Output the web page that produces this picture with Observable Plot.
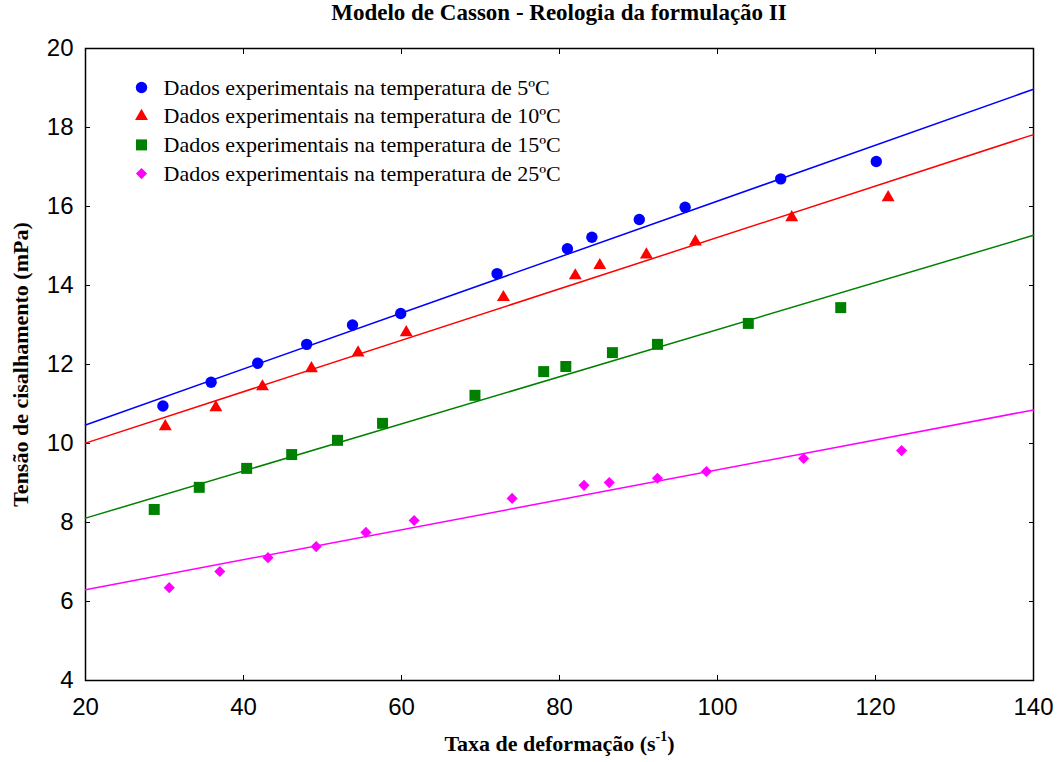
<!DOCTYPE html>
<html>
<head>
<meta charset="utf-8">
<script src="https://cdn.jsdelivr.net/npm/d3@7"></script>
<script src="https://cdn.jsdelivr.net/npm/@observablehq/plot@0.6"></script>
<style>
  body { margin: 0; background: #fff; }
  #chart { width: 1057px; }
  #chart h1 {
    margin: 0; height: 40px; line-height: 40px; padding-left: 61px;
    text-align: center; font: bold 23px "Liberation Serif", "Times New Roman", serif; color: #000;
  }
  #chart svg { display: block; }
</style>
</head>
<body>
<div id="chart"><h1>Modelo de Casson - Reologia da formulação II</h1></div>
<script>
// Shear rate (s^-1) and shear stress (mPa) measured at each temperature
const shearRate5  = [29.8, 35.9, 41.8, 48.0, 53.8, 59.9, 72.1, 81.0, 84.1, 90.1, 95.9, 108.0, 120.1];
const stress5     = [10.95, 11.55, 12.03, 12.51, 13.0, 13.29, 14.3, 14.93, 15.22, 15.67, 15.98, 16.7, 17.14];
const shearRate10 = [30.1, 36.5, 42.4, 48.6, 54.5, 60.6, 72.9, 82.0, 85.1, 91.0, 97.2, 109.4, 121.6];
const stress10    = [10.43, 10.91, 11.44, 11.9, 12.3, 12.81, 13.7, 14.25, 14.51, 14.78, 15.11, 15.72, 16.23];
const shearRate15 = [28.7, 34.4, 40.4, 46.1, 51.9, 57.6, 69.3, 78.0, 80.8, 86.7, 92.4, 103.9, 115.6];
const stress15    = [8.33, 8.89, 9.37, 9.72, 10.08, 10.51, 11.22, 11.82, 11.95, 12.3, 12.51, 13.04, 13.44];
const shearRate25 = [30.6, 37.0, 43.1, 49.2, 55.5, 61.6, 74.0, 83.1, 86.3, 92.4, 98.6, 110.9, 123.3];
const stress25    = [6.35, 6.76, 7.11, 7.39, 7.75, 8.05, 8.61, 8.94, 9.01, 9.12, 9.29, 9.62, 9.82];

// Casson model fits, evaluated at both ends of the shear-rate range
const fitRange = [20, 140];
const fit5  = [10.47, 18.97];
const fit10 = [10.01, 17.82];
const fit15 = [8.11, 15.27];
const fit25 = [6.30, 10.85];

const temperatures = ["5ºC", "10ºC", "15ºC", "25ºC"];
const colors  = ["#0000ff", "#ff0000", "#008000", "#ff00ff"];
const symbols = ["circle", "triangle", "square", "diamond2"];
const radii   = [5.7, 4.8, 6.2, 5.0];

const xTicks = [20, 40, 60, 80, 100, 120, 140];
const yTicks = [4, 6, 8, 10, 12, 14, 16, 18, 20];

const xLabel = "Taxa de deformação (s-1)";
const yLabel = "Tensão de cisalhamento (mPa)";

const series = [
  [shearRate5, stress5, fit5],
  [shearRate10, stress10, fit10],
  [shearRate15, stress15, fit15],
  [shearRate25, stress25, fit25]
].map(([xs, ys, fit], i) => ({
  points: xs.map((x, j) => ({x, y: ys[j]})),
  fit: fitRange.map((x, j) => ({x, y: fit[j]})),
  label: `Dados experimentais na temperatura de ${temperatures[i]}`,
  color: colors[i], symbol: symbols[i], r: radii[i]
}));

const serif = "'Liberation Serif', 'Times New Roman', serif";
const noText = () => "";

const marks = [
  // tick labels outside, short tick marks inside on every side
  Plot.axisX({anchor: "bottom", ticks: xTicks, tickSize: 0, tickPadding: 17, label: xLabel, labelAnchor: "center", labelOffset: 70}),
  Plot.axisX({anchor: "bottom", ticks: xTicks, tickSize: -5, tickFormat: noText, label: null}),
  Plot.axisX({anchor: "top", ticks: xTicks, tickSize: -5, tickFormat: noText, label: null}),
  Plot.axisY({anchor: "left", ticks: yTicks, tickSize: 0, tickPadding: 12, label: yLabel, labelAnchor: "center", labelOffset: 73}),
  Plot.axisY({anchor: "left", ticks: yTicks, tickSize: -5, tickFormat: noText, label: null}),
  Plot.axisY({anchor: "right", ticks: yTicks, tickSize: -5, tickFormat: noText, label: null}),
  Plot.frame({stroke: "black", strokeWidth: 1.5})
];

series.forEach((s, i) => {
  marks.push(Plot.line(s.fit, {x: "x", y: "y", stroke: s.color, strokeWidth: 1.5}));
  marks.push(Plot.dot(s.points, {x: "x", y: "y", symbol: s.symbol, fill: s.color, r: s.r}));
  // legend row
  const rowY = 39 + i * 28.7;
  marks.push(Plot.dot([s], {frameAnchor: "top-left", dx: 56, dy: rowY, symbol: s.symbol, fill: s.color, r: s.r}));
  marks.push(Plot.text([s.label], {
    frameAnchor: "top-left", dx: 78, dy: rowY, text: d => d, textAnchor: "start", lineAnchor: "middle",
    fontFamily: serif, fontSize: 22, fill: "black"
  }));
});

const svg = Plot.plot({
  width: 1057,
  height: 722,
  marginLeft: 85,
  marginRight: 24,
  marginTop: 8,
  marginBottom: 82,
  x: {domain: [20, 140]},
  y: {domain: [4, 20]},
  style: {fontFamily: "'Liberation Sans', Arial, sans-serif", fontSize: "24px", color: "black", background: "white", overflow: "visible"},
  marks
});

// axis titles in bold serif, without direction arrows; superscript for the unit exponent
const root = d3.select(svg);
root.selectAll('g[aria-label="x-axis label"] text, g[aria-label="y-axis label"] text')
  .attr("font-family", serif).attr("font-weight", "bold").attr("font-size", 22);
root.selectAll('g[aria-label="y-axis label"] text').text(yLabel);
root.selectAll('g[aria-label="x-axis label"] text').each(function () {
  const t = d3.select(this);
  t.text("");
  t.append("tspan").text("Taxa de deformação (s");
  t.append("tspan").attr("font-size", 14).attr("dy", "-0.7em").text("-1");
  t.append("tspan").attr("dy", "0.45em").text(")");
});

document.getElementById("chart").appendChild(svg);
</script>
</body>
</html>
